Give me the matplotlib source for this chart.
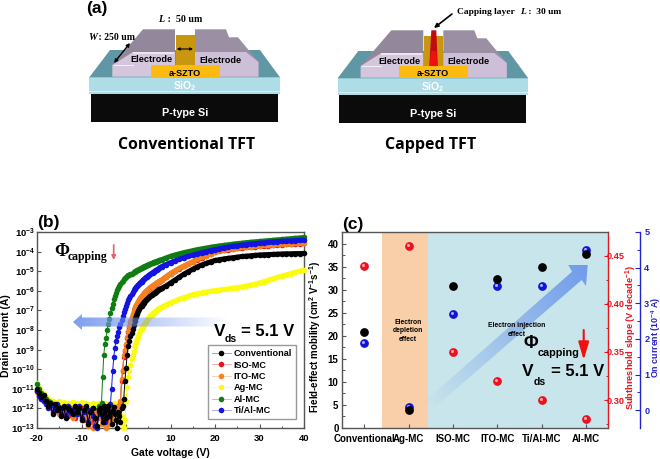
import numpy as np
import matplotlib
matplotlib.use('Agg')
import matplotlib.pyplot as plt
from matplotlib.patches import Polygon, Rectangle
from matplotlib.ticker import MultipleLocator, NullLocator
from matplotlib.transforms import offset_copy
from matplotlib.colors import to_rgb, to_rgba

plt.rcParams['font.family'] = ['Liberation Sans', 'DejaVu Sans']
plt.rcParams['font.weight'] = 'bold'
plt.rcParams['axes.unicode_minus'] = False
plt.rcParams['mathtext.fontset'] = 'custom'
plt.rcParams['mathtext.rm'] = 'Liberation Sans:bold'
plt.rcParams['mathtext.bf'] = 'Liberation Sans:bold'
plt.rcParams['mathtext.default'] = 'bf'

# panel b: gate voltage sweep
vg_off = np.arange(-20, -5.9, 0.5)
vg_rise = np.arange(-5.75, 8.1, 0.25)
vg_high = np.arange(9, 41, 1)
vg = np.concatenate([vg_off, vg_rise, vg_high])

# log10 of drain current
log_conv = [-11.0,-11.2,-11.4,-11.3,-11.6,-11.9,-11.7,-12.3,-11.8,-12.1,
            -12.0,-12.4,-11.9,-12.5,-12.0,-12.1,-12.3,-11.9,-12.2,-12.0,
            -12.6,-12.1,-11.9,-12.8,-12.2,-12.0,-12.5,-12.9,-12.1,
            -12.0,-12.3,-12.7,-11.9,-12.1,-12.5,-12.0,-11.9,-12.4,-12.2,
            -12.8,-12.1,-11.95,-12.3,-12.6,-13.0,-12.2,-12.4,-12.7,-12.0,
            -11.9,-11.5,
            -10.6,-9.95,-9.3,-8.8,-8.55,-8.32,-8.13,-7.93,-7.72,-7.52,-7.33,-7.18,
            -7.05,-6.94,-6.84,-6.75,-6.67,-6.6,-6.54,-6.48,-6.43,-6.38,-6.33,-6.28,
            -6.23,-6.18,-6.13,-6.09,-6.05,-6.01,-5.97,-5.93,-5.9,-5.87,
            -5.75,-5.6,-5.45,-5.3,-5.15,-5.02,-4.9,-4.78,-4.68,-4.6,-4.52,-4.45,
            -4.41,-4.37,-4.34,-4.31,-4.28,-4.25,-4.23,-4.21,-4.19,-4.17,
            -4.16,-4.15,-4.14,-4.13,-4.12,-4.11,-4.11,-4.1,-4.1,-4.09]
log_iso = [-11.1,-11.3,-11.45,-11.6,-11.7,-11.85,-11.9,-12.0,-12.1,-11.95,
           -12.2,-12.0,-12.3,-12.1,-12.4,-12.0,-12.2,-12.5,-12.1,-12.3,
           -12.0,-12.6,-12.2,-12.4,-12.1,-12.7,-12.3,-12.5,-12.2,
           -12.4,-12.1,-12.7,-12.3,-12.0,-12.5,-12.2,-12.6,-12.1,-12.4,
           -12.3,-12.0,-12.5,-12.2,-12.3,-12.0,-12.2,-12.1,-11.8,
           -10.6,-10.1,-9.4,-9.05,-8.75,-8.4,-8.1,-7.85,-7.6,-7.4,-7.22,-7.06,
           -6.92,-6.8,-6.7,-6.6,-6.5,-6.41,-6.33,-6.25,-6.18,-6.11,-6.06,-6.0,
           -5.95,-5.9,-5.85,-5.81,-5.76,-5.72,-5.68,-5.64,-5.6,-5.57,-5.53,-5.5,-5.47,
           -5.3,-5.14,-5.0,-4.87,-4.75,-4.64,-4.53,-4.42,-4.32,-4.22,-4.12,-4.02,
           -3.98,-3.94,-3.9,-3.87,-3.84,-3.81,-3.78,-3.76,-3.74,-3.72,
           -3.7,-3.69,-3.67,-3.65,-3.64,-3.62,-3.61,-3.6,-3.59,-3.58]
log_ito = [-11.15,-11.35,-11.5,-11.6,-11.75,-11.9,-12.0,-11.9,-12.15,-12.0,
           -12.3,-12.1,-12.0,-12.4,-12.2,-12.1,-12.5,-12.0,-12.3,-12.2,
           -12.6,-12.1,-12.4,-12.9,-12.3,-13.0,-12.7,-12.2,-12.5,
           -12.3,-12.8,-12.1,-12.6,-12.4,-13.0,-12.5,-12.2,-12.8,-12.3,
           -12.1,-12.6,-12.2,-12.4,-12.0,-12.3,-11.9,-12.1,-11.6,
           -10.5,-10.05,-9.3,-9.0,-8.7,-8.35,-8.05,-7.8,-7.55,-7.35,-7.18,-7.02,
           -6.88,-6.76,-6.66,-6.56,-6.47,-6.38,-6.3,-6.22,-6.15,-6.08,-6.03,-5.98,
           -5.93,-5.88,-5.83,-5.79,-5.74,-5.7,-5.66,-5.62,-5.58,-5.55,-5.51,-5.48,-5.45,
           -5.28,-5.12,-4.98,-4.85,-4.73,-4.62,-4.51,-4.4,-4.3,-4.2,-4.1,-4.0,
           -3.96,-3.92,-3.88,-3.85,-3.82,-3.79,-3.76,-3.74,-3.72,-3.7,
           -3.68,-3.67,-3.65,-3.63,-3.62,-3.6,-3.59,-3.58,-3.56,-3.55]
log_ag = [-10.7,-10.95,-11.1,-11.25,-11.4,-11.5,-11.55,-11.6,-11.65,-11.7,
          -11.6,-11.75,-11.65,-11.8,-11.7,-11.75,-11.65,-11.8,-11.7,-11.75,
          -11.65,-11.8,-11.7,-11.75,-11.85,-11.7,-11.8,-11.75,-11.7,
          -11.8,-11.7,-11.85,-11.75,-11.7,-11.85,-11.75,-11.8,-11.7,-11.85,
          -11.75,-11.8,-11.7,-11.9,-11.75,-11.85,-11.8,-11.9,-12.0,-12.4,
          -12.9,-13.0,
          -12.6,-11.6,-10.9,-10.4,-10.1,-9.8,-9.5,-9.3,-9.05,-8.85,-8.65,-8.5,
          -8.35,-8.2,-8.07,-7.95,-7.84,-7.74,-7.65,-7.57,-7.49,-7.41,-7.34,-7.28,
          -7.22,-7.16,-7.11,-7.06,-7.02,-6.98,-6.94,-6.9,-6.87,-6.84,
          -6.72,-6.62,-6.52,-6.43,-6.35,-6.27,-6.2,-6.15,-6.1,-6.06,-6.02,-5.99,
          -5.96,-5.93,-5.9,-5.87,-5.84,-5.8,-5.76,-5.71,-5.66,-5.6,
          -5.53,-5.46,-5.39,-5.32,-5.25,-5.19,-5.12,-5.06,-5.0,-4.94]
log_al = [-10.75,-11.0,-11.2,-11.35,-11.5,-11.6,-11.65,-11.8,-11.9,-12.0,
          -11.95,-12.1,-12.0,-12.2,-12.05,-12.3,-12.1,-12.4,-12.2,-12.1,
          -12.0,-12.3,-12.1,-12.5,-12.2,-12.0,-12.3,-12.1,-11.9,
          -12.0,-11.7,-10.4,-9.3,-8.7,-8.4,-8.0,-7.7,-7.42,-7.15,-6.9,-6.65,
          -6.43,-6.25,-6.1,-5.96,-5.84,-5.73,-5.64,-5.56,-5.49,-5.42,-5.35,-5.28,
          -5.24,-5.21,-5.18,-5.15,-5.12,-5.08,-5.05,-5.02,-4.99,-4.96,-4.93,-4.9,
          -4.87,-4.84,-4.81,-4.78,-4.75,-4.73,-4.7,-4.68,-4.65,-4.63,-4.6,-4.58,
          -4.55,-4.53,-4.51,-4.49,-4.47,-4.45,-4.43,-4.41,
          -4.32,-4.24,-4.17,-4.11,-4.05,-4.0,-3.95,-3.9,-3.86,-3.82,-3.78,-3.74,
          -3.71,-3.68,-3.65,-3.62,-3.59,-3.57,-3.54,-3.52,-3.5,-3.48,
          -3.46,-3.44,-3.42,-3.4,-3.38,-3.36,-3.34,-3.32,-3.3,-3.28]
log_ti = [-11.1,-11.35,-11.5,-11.6,-11.8,-12.0,-11.9,-12.2,-12.0,-11.8,
          -12.1,-12.3,-12.0,-12.4,-11.9,-12.2,-12.1,-12.0,-12.3,-11.9,
          -12.5,-12.2,-12.0,-12.7,-12.1,-12.4,-12.9,-13.0,-12.2,
          -12.3,-12.0,-12.5,-11.9,-12.7,-12.1,-12.4,-11.9,-12.2,-11.8,
          -11.0,-10.1,-9.4,-8.9,-8.55,-8.3,-8.08,-7.87,-7.67,-7.48,-7.3,-7.1,-6.95,-6.78,
          -6.62,-6.47,-6.36,-6.25,-6.16,-6.07,-5.98,-5.9,-5.83,-5.77,-5.7,-5.64,
          -5.58,-5.53,-5.47,-5.42,-5.37,-5.32,-5.28,-5.23,-5.19,-5.15,-5.11,-5.07,
          -5.03,-4.99,-4.95,-4.92,-4.88,-4.84,-4.81,-4.77,
          -4.66,-4.56,-4.47,-4.39,-4.31,-4.24,-4.18,-4.12,-4.06,-4.0,-3.95,-3.9,
          -3.85,-3.81,-3.77,-3.73,-3.7,-3.67,-3.64,-3.61,-3.59,-3.57,
          -3.55,-3.53,-3.51,-3.49,-3.47,-3.46,-3.45,-3.44,-3.42,-3.41]

# panel c
devices = ['Conventional', 'Ag-MC', 'ISO-MC', 'ITO-MC', 'Ti/Al-MC', 'Al-MC']
mobility = [20.8, 3.9, 30.8, 32.3, 34.9, 37.7]
sub_slope = [0.4396, 0.4598, 0.350, 0.320, 0.300, 0.280]
on_current = [1.88, 0.09, 2.69, 3.49, 3.49, 4.49]

W, H = 660, 459
fig = plt.figure(figsize=(W / 100, H / 100), dpi=100)


def px_axes(x0, y0, x1, y1):
    return fig.add_axes([x0 / W, 1 - y1 / H, (x1 - x0) / W, (y1 - y0) / H])


GRAY = '#555555'
C_BLACK, C_RED, C_ORANGE = '#000000', '#e8141c', '#f58220'
C_YELLOW, C_GREEN, C_BLUE = '#fbfb10', '#0f7d12', '#1414e0'

# ---------- (b) transfer curves
ax_b = px_axes(37, 232, 304, 428)
curves = [
    ('Ag-MC', log_ag, C_YELLOW, 3),
    ('Al-MC', log_al, C_GREEN, 4),
    ('ISO-MC', log_iso, C_RED, 5),
    ('ITO-MC', log_ito, C_ORANGE, 6),
    ('Ti/Al-MC', log_ti, C_BLUE, 7),
    ('Conventional', log_conv, C_BLACK, 8),
]
handles = {}
for name, vals, col, z in curves:
    cur = 10.0 ** np.array(vals)
    line, = ax_b.plot(vg, cur, color=col, lw=0.7, marker='o', ms=4.0,
                      mec='none', zorder=z, clip_on=False, label=name)
    handles[name] = line
    # the dense part of the sweep reads as a solid band
    keep = vg >= 2
    ax_b.plot(vg[keep], cur[keep], color=col, lw=3.6, zorder=z, solid_capstyle='round')
ax_b.set_yscale('log')
ax_b.set_xlim(-20, 40)
ax_b.set_ylim(1e-13, 1e-3)
ax_b.set_xticks([-20, -10, 0, 10, 20, 30, 40])
ax_b.set_yticks([10.0 ** e for e in range(-13, -2)])
ax_b.set_yticklabels(['$10^{%d}$' % e for e in range(-13, -2)])
ax_b.yaxis.set_minor_locator(NullLocator())
ax_b.xaxis.set_minor_locator(MultipleLocator(5))
ax_b.tick_params(which='major', direction='in', length=3, width=0.8, labelsize=6.8, pad=1.5, color=GRAY)
ax_b.tick_params(which='minor', direction='in', length=1.8, width=0.7, color=GRAY)
ax_b.tick_params(axis='x', pad=4)
for s in ax_b.spines.values():
    s.set_color(GRAY)
    s.set_linewidth(1.0)
ax_b.set_xlabel('Gate voltage (V)', fontsize=7.5, weight='bold', labelpad=4)
ax_b.set_ylabel('Drain current (A)', fontsize=7.5, weight='bold')
ax_b.yaxis.set_label_coords((11.5 - 37) / 267, (428 - 336) / 196)

order = ['Conventional', 'ISO-MC', 'ITO-MC', 'Ag-MC', 'Al-MC', 'Ti/Al-MC']
leg = ax_b.legend([handles[n] for n in order], order, loc='lower left',
                  bbox_to_anchor=((207.7 - 37) / 267, (428 - 419) / 196),
                  prop={'size': 6.6, 'weight': 'bold'}, fancybox=False, framealpha=1,
                  edgecolor='#999999', labelspacing=0.26, handlelength=2.1, borderpad=0.42,
                  handletextpad=0.29, borderaxespad=0)
for h in leg.legend_handles:
    col = h.get_color()
    h.set_markerfacecolor(to_rgba(col, 1))
    h.set_color(to_rgba(col, 0.35))
    h.set_markersize(4.0)
leg.set_zorder(20)

# ---------- (c) summary
ax_red = px_axes(342, 232, 608, 428)
ax_c = ax_red.twinx()
ax_blue = ax_red.twinx()
ax_red.set_zorder(1)
ax_blue.set_zorder(2)
ax_c.set_zorder(3)
ax_blue.patch.set_visible(False)
ax_c.patch.set_visible(False)
xpos = np.arange(len(devices))
ax_red.set_xlim(-0.5, 5.5)
ax_red.axvspan(0.4, 1.44, color='#f9cfa9', lw=0, zorder=0)
ax_red.axvspan(1.44, 5.5, color='#c9e5ec', lw=0, zorder=0)


def balls(ax, y, col, shine):
    ax.plot(xpos, y, ls='none', marker='o', ms=6.3, mfc=col, mec='none', zorder=5, clip_on=False)
    if shine:
        tr = offset_copy(ax.transData, fig=fig, x=-0.6, y=0.9, units='points')
        ax.plot(xpos, y, ls='none', marker='o', ms=2.2, mfc='#ffffff', mec='none', alpha=0.65,
                zorder=6, transform=tr, clip_on=False)


balls(ax_red, sub_slope, '#ee1020', True)
balls(ax_blue, on_current, '#1212dc', True)
balls(ax_c, mobility, '#000000', False)

ax_red.set_ylim(0.271, 0.4747)
ax_blue.set_ylim(-0.5, 5)
ax_c.set_ylim(0, 42.5)

# ax_c is the left axis here, ax_red and ax_blue sit on the right
ax_c.yaxis.set_label_position('left')
ax_c.yaxis.tick_left()
ax_c.set_yticks(np.arange(0, 41, 5))
ax_c.set_yticks(np.arange(2.5, 42, 5), minor=True)
ax_c.tick_params(which='major', direction='in', length=3, width=0.8, labelsize=7, pad=2.5, color=GRAY)
ax_c.tick_params(which='minor', direction='in', length=1.8, width=0.7, color=GRAY)
ax_c.set_ylabel('Field-effect mobility (cm$^2$ V$^{-1}$s$^{-1}$)', fontsize=7.0, weight='bold')
ax_c.yaxis.set_label_coords((323 - 342) / 266, (428 - 337) / 196)
for s in ax_c.spines.values():
    s.set_visible(False)

ax_red.set_xticks(xpos)
ax_red.set_xticklabels(devices, fontsize=7)
ax_red.tick_params(axis='x', direction='in', length=3, width=0.8, pad=4, color=GRAY)
ax_red.yaxis.tick_right()
ax_red.yaxis.set_label_position('right')
ax_red.set_yticks([0.30, 0.35, 0.40, 0.45])
ax_red.set_yticklabels(['0.30', '0.35', '0.40', '0.45'])
ax_red.set_yticks(np.arange(0.275, 0.47, 0.025), minor=True)
ax_red.tick_params(axis='y', which='major', direction='in', length=3, width=0.8, labelsize=6.6, pad=-1.2,
                   colors='#e8141c')
ax_red.tick_params(axis='y', which='minor', direction='in', length=1.8, width=0.7, color='#e8141c')
ax_red.set_ylabel('Subthreshold slope (V decade$^{-1}$)', fontsize=6.7, color='#e8141c', weight='bold')
ax_red.yaxis.set_label_coords((624 - 342) / 266, (428 - 337.5) / 196)
for name in ['left', 'top', 'bottom']:
    ax_red.spines[name].set_color(GRAY)
    ax_red.spines[name].set_linewidth(1.0)
ax_red.spines['right'].set_color('#e8141c')
ax_red.spines['right'].set_linewidth(1.0)

ax_blue.spines['right'].set_position(('outward', 32 * 0.72))
ax_blue.set_yticks(np.arange(0, 6, 1))
ax_blue.set_yticks(np.arange(0.5, 5, 1), minor=True)
ax_blue.tick_params(axis='y', which='major', direction='in', length=3.5, width=0.8, labelsize=6.6, pad=3,
                    colors='#2222cc')
ax_blue.tick_params(axis='y', which='minor', direction='in', length=2, width=0.7, color='#2222cc')
ax_blue.set_ylabel('On current (10$^{-4}$ A)', fontsize=6.4, color='#2222cc', weight='bold')
ax_blue.yaxis.set_label_coords((649 - 342) / 266, (428 - 337.5) / 196)
ax_blue.spines['right'].set_color('#2222cc')
ax_blue.spines['right'].set_linewidth(1.0)
for name in ['left', 'top', 'bottom']:
    ax_blue.spines[name].set_visible(False)

# ---------- overlay in pixel coordinates: schematic (a), arrows, annotations
ov = fig.add_axes([0, 0, 1, 1], zorder=10)
ov.patch.set_visible(False)
ov.axis('off')


def poly(points, col, z=2, **kw):
    p = Polygon(points, closed=True, facecolor=col, edgecolor='none', zorder=z, **kw)
    ov.add_patch(p)
    return p


def grad_arrow(points, p0, p1, col, a0, a1):
    # gradient fill along p0 -> p1, clipped to the arrow outline
    xx, yy = np.meshgrid(np.arange(0, W, 1.0), np.arange(0, H, 1.0))
    d = np.array(p1, float) - np.array(p0, float)
    t = ((xx - p0[0]) * d[0] + (yy - p0[1]) * d[1]) / (d @ d)
    t = np.clip(t, 0, 1)
    img = np.zeros(xx.shape + (4,))
    img[..., :3] = to_rgb(col)
    img[..., 3] = a0 + (a1 - a0) * t
    im = ov.imshow(img, extent=(0, W, H, 0), aspect='auto', zorder=3, interpolation='bilinear')
    patch = Polygon(points, closed=True, transform=ov.transData, facecolor='none', edgecolor='none')
    ov.add_patch(patch)
    im.set_clip_path(patch)


def label(x, y, s, size, col='black', family=None, ha='center', va='center', z=8, **kw):
    kw.setdefault('weight', 'bold')
    fam = family if family else ['Liberation Sans', 'DejaVu Sans']
    ov.text(x, y, s, fontsize=size, color=col, family=fam, ha=ha, va=va, zorder=z, **kw)


SERIF = ['Liberation Serif', 'DejaVu Serif']


def draw_device(dx, dy, capped):
    # substrate and oxide
    ov.add_patch(Rectangle((90.7 + dx, 94 + dy), 187.3, 27.7, fc='#0b0b0b', ec='none', zorder=2))
    ov.add_patch(Rectangle((89.3 + dx, 77.3 + dy), 190.7, 16.7, fc='#aedde8', ec='none', zorder=2))
    ov.add_patch(Rectangle((89.3 + dx, 90.5 + dy), 190.7, 1.5, fc='#d8f0f4', ec='none', zorder=2))
    poly([(p[0] + dx, p[1] + dy) for p in [(89.3, 77.3), (280, 77.3), (260, 50), (110, 50)]], '#5f98a4')
    # electrode tops
    left = [(112.3, 65), (143, 29.3), (175, 29.3), (175, 65)]
    right = [(195, 29.3), (226, 29.3), (229, 37.3), (238, 37.3), (258.5, 62), (258.5, 76.7), (195, 76.7)]
    poly([(p[0] + dx, p[1] + dy) for p in left], '#92879b', z=3)
    poly([(p[0] + dx, p[1] + dy) for p in right], '#9a8fa3', z=3)
    poly([(p[0] + dx, p[1] + dy) for p in [(195, 52), (246, 52), (258.5, 62), (258.5, 76.7), (195, 76.7)]],
         '#cdbfd8', z=3)
    # electrode fronts
    poly([(p[0] + dx, p[1] + dy) for p in [(112.3, 65), (133, 52), (175, 52), (175, 65), (151, 65), (151, 76.7),
                                           (112.3, 76.7)]], '#d3c6dd', z=4)
    ov.add_patch(Rectangle((113.5 + dx, 64.5 + dy), 20, 1.5, fc='#f4eef8', ec='none', zorder=5))
    ov.add_patch(Rectangle((133 + dx, 51.5 + dy), 41, 2.2, fc='#ece5f0', ec='none', zorder=5))
    # channel
    ov.add_patch(Rectangle((176 + dx, 35 + dy), 19, 30, fc='#c8960f', ec='none', zorder=4))
    ov.add_patch(Rectangle((151 + dx, 65 + dy), 69, 11.7, fc='#fdbb0f', ec='none', zorder=5))
    if capped:
        poly([(p[0] + dx, p[1] + dy) for p in [(183, 29.3), (188, 29.3), (189.5, 65), (181, 65)]], '#c20a12', z=6)
        poly([(p[0] + dx, p[1] + dy) for p in [(183, 50), (188, 50), (189.5, 65), (181, 65)]], '#f01010', z=6)
    label(151 + dx, 60 + dy, 'Electrode', 6.6)
    label(220 + dx, 60.5 + dy, 'Electrode', 6.6)
    label(185 + dx, 73 + dy, 'a-SZTO', 6.6)
    label(185 + dx, 86.5 + dy, 'SiO$_2$', 7.5, col='white')
    label(185 + dx, 113 + dy, 'P-type Si', 7.8, col='white')


draw_device(0, 0, False)
draw_device(248.3, 1, True)

label(86, 8, '(a)', 12.5, ha='left')
label(37, 222, '(b)', 12.5, ha='left')
label(342, 224, '(c)', 12.5, ha='left')

label(186.5, 145, 'Conventional TFT', 11.4, family=['Open Sans', 'DejaVu Sans'])
label(431, 145, 'Capped TFT', 11.5, family=['Open Sans', 'DejaVu Sans'])

label(158, 19, 'L', 7.2, family=SERIF, ha='left', style='italic')
label(165, 19, ' :  50 um', 7.2, family=SERIF, ha='left')
label(88, 37, 'W', 7.2, family=SERIF, ha='left', style='italic')
label(96, 37, ' : 250 um', 7.0, family=SERIF, ha='left')
label(457, 12, 'Capping layer', 6.8, family=SERIF, ha='left')
label(520, 12, 'L', 6.8, family=SERIF, ha='left', style='italic')
label(526, 12, ' :  30 um', 6.8, family=SERIF, ha='left')

ov.annotate('', xy=(114, 63), xytext=(130, 43), zorder=8,
            arrowprops=dict(arrowstyle='<|-|>', color='black', lw=1.0, mutation_scale=5, shrinkA=0, shrinkB=0))
ov.annotate('', xy=(176.7, 49), xytext=(193, 49), zorder=8,
            arrowprops=dict(arrowstyle='<|-|>', color='black', lw=0.8, mutation_scale=4, shrinkA=0, shrinkB=0))
ov.annotate('', xy=(434, 28), xytext=(452, 14), zorder=8,
            arrowprops=dict(arrowstyle='-|>', color='black', lw=1.2, mutation_scale=6, shrinkA=0, shrinkB=0))

# horizontal arrow in (b)
grad_arrow([(73, 322), (82, 314), (82, 317.5), (228, 317.5), (228, 326.5), (82, 326.5), (82, 330)],
           (73, 322), (228, 322), '#6f93ee', 0.9, 0.0)

# diagonal arrow in (c)
grad_arrow([(587.7, 265), (568.3, 265), (572, 271.7), (415, 410), (415, 424.5), (581.7, 280), (586, 286)],
           (425, 405), (587, 266), '#6f9bea', 0.0, 1.0)

# annotations (b)
label(54, 252, '\u03a6', 13, family=SERIF, ha='left')
label(68, 257, 'capping', 8.5, family=SERIF, ha='left')
ov.annotate('', xy=(113.7, 260), xytext=(113.7, 245), zorder=8,
            arrowprops=dict(arrowstyle='-|>', color='#e4606a', lw=1.2, mutation_scale=6, shrinkA=0, shrinkB=0))
label(214, 331, 'V', 12.5, ha='left')
label(225, 339.5, 'ds', 7.5, ha='left')
label(241, 331, '= 5.1 V', 12, ha='left')

# annotations (c)
label(408, 331, 'Electron\ndepletion\neffect', 4.9, linespacing=1.25)
label(516.7, 330, 'Electron injection\neffect', 4.9, linespacing=1.25)
label(524, 343, '\u03a6', 13, ha='left')
label(537.7, 352.7, 'capping', 7.8, ha='left')
ov.annotate('', xy=(583.7, 360), xytext=(583.7, 330), zorder=8,
            arrowprops=dict(arrowstyle='-|>,head_length=1.08,head_width=0.32', color='#f01010', lw=1.5,
                            mutation_scale=10, shrinkA=0, shrinkB=0))
label(522, 372, 'V', 12.5, ha='left')
label(534, 381.7, 'ds', 7.5, ha='left')
label(551, 372, '= 5.1 V', 12, ha='left')

ov.set_xlim(0, W)
ov.set_ylim(H, 0)

fig.savefig('out.png', dpi=100)
